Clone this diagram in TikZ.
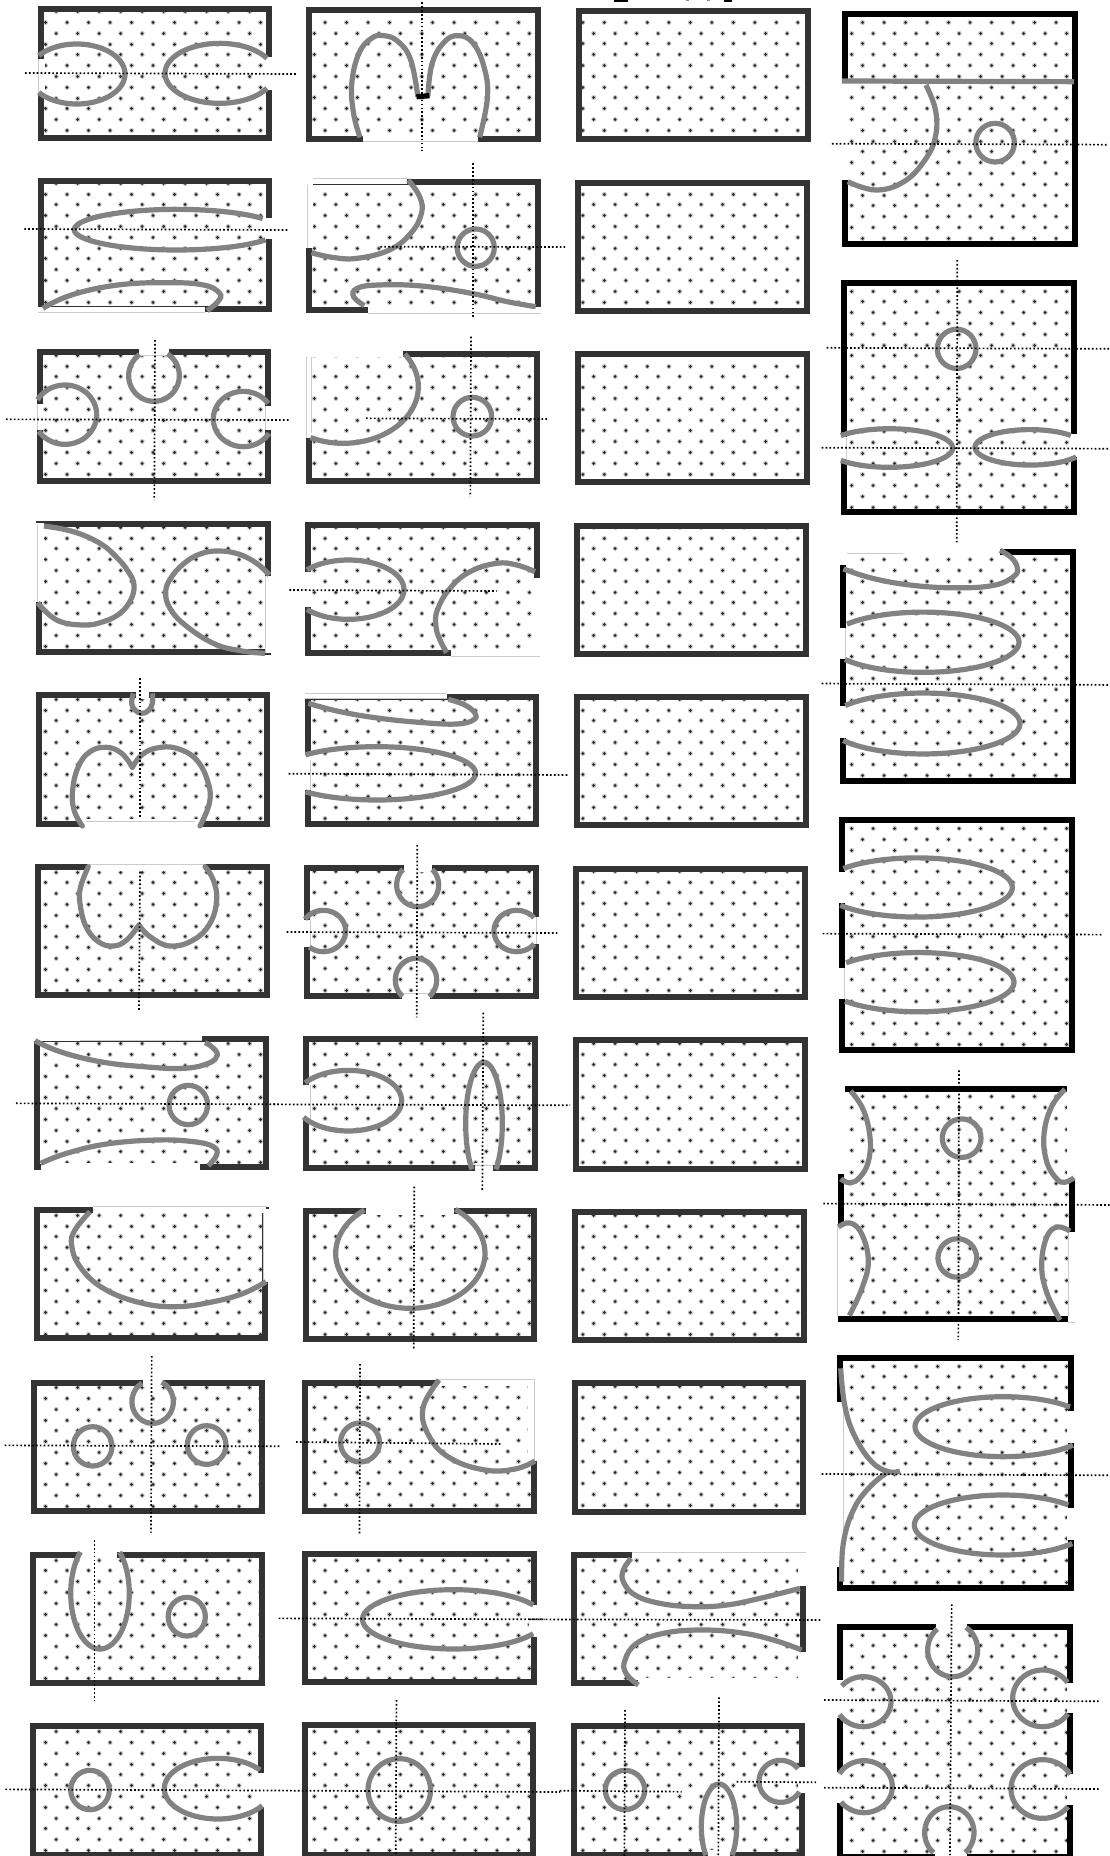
\documentclass[tikz,border=0pt]{standalone}
\usepackage{xcolor}
\definecolor{frmgray}{HTML}{333333}
\definecolor{cvgray}{HTML}{828282}
\definecolor{dotgray}{HTML}{282828}
\definecolor{halogray}{HTML}{C4C4C4}
\tikzset{
  cv/.style={draw=cvgray,line width=5.2pt},
  axisl/.style={draw=black,line width=1.7pt,dash pattern=on 1.7pt off 2.2pt},
  seam/.style={draw=black!20,line width=.6pt},
  halodot/.style={draw=halogray,line width=5pt,line cap=round},
  coredot/.style={draw=dotgray,line width=3pt,line cap=round},
  zm/.style n args={4}{shift={(#1,#2)},x=#3pt,y=#4pt},
  zt/.style 2 args={zm={#1}{#2}{.33333}{-.33333}},
  zn/.style 2 args={zm={#1}{#2}{.35714}{-.33333}},
  zo/.style 2 args={zm={#1}{#2}{.35088}{-.33333}},
  zv/.style 2 args={zm={#1}{#2}{.33333}{-.34435}},
}
\newcommand{\setcol}[3]{\def\colA{#1}\def\colB{#2}\def\colF{#3}}
% x0 y0 x1 y1 ydot rows phase
\newcommand{\panel}[7]{%
  \foreach \kk in {1,...,#6}{%
    \pgfmathsetmacro{\yy}{#5+10.8*(\kk-1)}%
    \pgfmathtruncatemacro{\ph}{mod(\kk-1+#7,2)}%
    \ifnum\ph=0
      \path[halodot] \foreach \ii in {0,...,10}{({\colA+21.5*\ii},\yy) -- ++(.01,0)};%
      \path[coredot] \foreach \ii in {0,...,10}{({\colA+21.5*\ii},\yy) -- ++(.01,0)};%
    \else
      \path[halodot] \foreach \ii in {0,...,9}{({\colB+21.5*\ii},\yy) -- ++(.01,0)};%
      \path[coredot] \foreach \ii in {0,...,9}{({\colB+21.5*\ii},\yy) -- ++(.01,0)};%
    \fi
  }%
  \draw[draw=\colF,line width=6pt] ([shift={(3,3)}]#1,#2) rectangle ([shift={(-3,-3)}]#3,#4);%
}
\newcommand{\gp}[4]{\fill[white] (#1,#2) rectangle (#3,#4);}
\newcommand{\sm}[4]{\draw[seam] (#1,#2) -- (#3,#4);}
\newcommand{\cvv}[1]{\draw[cv] plot[smooth,tension=.7] coordinates {#1};}
\newcommand{\cvr}[1]{\draw[cv,line cap=round] plot[smooth,tension=.7] coordinates {#1};}
\newcommand{\rng}[4]{\draw[cv] (#1,#2) circle[x radius=#3,y radius=#4];}
\newcommand{\ela}[6]{\draw[cv] plot[domain=#5:#6,samples=72,variable=\t] ({#1+#3*cos(\t)},{#2+#4*sin(\t)});}
\newcommand{\dl}[4]{\draw[axisl] (#1,#2) -- (#3,#4);}
\begin{document}
\begin{tikzpicture}[x=1pt,y=-1pt]
\useasboundingbox (0,0) rectangle (1110,1856);
\fill[white] (0,0) rectangle (1110,1856);
% fragments of the cropped line of text at the top edge
\fill[black] (614,0) rectangle (628,1.6);
\fill[black] (724,0) rectangle (732,1.6);
\fill[black!45] (686,0) rectangle (689,1.4);
\fill[black!45] (707,0) rectangle (710,1.4);
% ---- column 1
\setcol{45.5}{56.2}{frmgray}
\panel{37.5}{6}{272}{140.7}{11.7}{12}{1}
\panel{37.5}{177.7}{272}{312.3}{183.3}{12}{1}
\panel{36.7}{349}{271.2}{484}{355.3}{12}{1}
\panel{36.3}{521}{271}{655.3}{527.3}{12}{1}
\panel{36}{692}{270.4}{826.7}{699.3}{12}{1}
\panel{35.3}{863.7}{270}{998.3}{872}{12}{1}
\panel{34.3}{1036}{269.3}{1170}{1043.9}{12}{1}
\panel{33.7}{1207}{268.4}{1341}{1215.3}{12}{1}
\panel{30.7}{1380}{265.3}{1514}{1387.7}{12}{1}
\panel{30.4}{1551.7}{264.7}{1685.7}{1560}{12}{1}
\panel{29.6}{1722.7}{264}{1858}{1731.7}{12}{1}
% ---- column 2
\setcol{314.3}{325}{frmgray}
\panel{306.4}{7.3}{541.4}{141.7}{22.3}{11}{1}
\panel{306.4}{179}{541.4}{312.7}{194}{11}{1}
\panel{305.7}{350.7}{540}{484.3}{355.3}{12}{0}
\panel{305.3}{522}{539.7}{656}{527.3}{12}{0}
\panel{304.7}{693.7}{539.3}{827.3}{699.3}{12}{0}
\panel{304}{864.7}{538.7}{999}{871.3}{12}{0}
\panel{303.3}{1036}{538}{1170.7}{1043.3}{12}{0}
\panel{302.7}{1207.7}{537.3}{1342}{1215.3}{12}{0}
\panel{302.3}{1379.5}{536.8}{1514}{1386.2}{12}{0}
\panel{302}{1550.7}{536.8}{1685}{1560}{12}{0}
\panel{301.8}{1722.3}{536.4}{1858}{1731.7}{12}{0}
% ---- column 3
\setcol{582.8}{593.7}{frmgray}
\panel{575.8}{8.3}{810.5}{142.3}{22.3}{11}{0}
\panel{575.3}{179.5}{810}{314}{194}{11}{0}
\panel{574.8}{351}{809.5}{485.3}{366}{11}{0}
\panel{574.3}{522.5}{809}{657}{527.3}{12}{1}
\panel{573.8}{694}{808.5}{828.3}{699.3}{12}{1}
\panel{573.2}{865.8}{808}{1000}{871.3}{12}{1}
\panel{572.7}{1037.3}{807.5}{1171.6}{1043.3}{12}{1}
\panel{572.2}{1208.8}{807}{1343}{1215.3}{12}{1}
\panel{571.7}{1380.3}{806.4}{1514.6}{1386.2}{12}{1}
\panel{571}{1551.7}{805.7}{1685.7}{1560}{12}{1}
\panel{570.7}{1723.3}{805.4}{1858}{1731.7}{12}{1}
% ---- column 4
\setcol{851.7}{862.5}{black}
\panel{841.8}{10.7}{1078}{246.7}{22.3}{21}{1}
\panel{840.7}{279.6}{1077}{515}{291}{21}{0}
\panel{840}{548.6}{1076}{784}{559.6}{21}{1}
\panel{839}{816.5}{1075}{1053.4}{828.6}{21}{0}
\panel{838}{1085.5}{1075}{1322}{1096.8}{21}{1}
\panel{837.3}{1354.7}{1074}{1591.3}{1366}{21}{0}
\panel{836.7}{1623.7}{1073}{1860}{1635}{21}{1}
% ==== zoom 1 region
\begin{scope}[zn={0}{0}]
  \gp{100}{178}{125}{280}\gp{745}{170}{768}{270}
  \sm{108}{178}{108}{280}
  \ela{215}{222}{135}{90}{-142}{142}
  \ela{615}{220}{153}{90}{30}{330}
  \gp{1015}{405}{1338}{430}\sm{1015}{424}{1338}{424}
  \cvv{(1008,412)(990,340)(985,250)(1005,160)(1040,115)(1075,107)(1115,125)(1150,180)(1170,290)}
  \cvv{(1198,290)(1210,190)(1245,125)(1285,107)(1325,130)(1355,200)(1365,290)(1343,412)}
  \fill[black] (1165,283) -- (1201,279) -- (1203,295) -- (1167,298) -- cycle;
  \gp{100}{922}{575}{945}\sm{105}{937}{575}{937}
  \gp{745}{655}{768}{718}
  \ela{495}{689}{287}{61}{30}{327}
  \cvv{(120,925)(200,885)(330,855)(470,848)(570,855)(615,880)(610,905)(580,932)}
  \gp{850}{530}{875}{745}\gp{850}{530}{1140}{552}\sm{860}{555}{860}{745}\sm{875}{535}{1140}{535}
  \gp{1030}{922}{1520}{945}\sm{1030}{940}{1515}{940}
  \cvv{(1143,540)(1175,590)(1180,640)(1150,700)(1090,750)(1000,775)(930,772)(872,758)}
  \cvv{(1020,917)(990,890)(1000,865)(1060,855)(1180,858)(1320,880)(1420,905)(1500,920)}
  \rng{1332}{743}{52}{56}
\end{scope}
% ==== zoom 2 region
\begin{scope}[zo={560}{0}]
  \gp{798}{236}{822}{540}
  \draw[cv] (803,243) -- (1465,245);
  \cvv{(1043,255)(1070,330)(1070,410)(1040,480)(980,545)(900,570)(820,545)}
  \rng{1240}{428}{55}{58}
\end{scope}
% ==== zoom 4: rows 3 and 4, column 1
\begin{scope}[zt={0}{330}]
  \gp{418}{55}{508}{78}\gp{105}{222}{130}{300}\gp{795}{228}{815}{300}
  \sm{418}{75}{508}{75}\sm{113}{222}{113}{300}\sm{797}{228}{797}{300}
  \ela{462}{137}{76}{77}{-58}{235}
  \ela{195}{254}{95}{89}{-150}{146}
  \ela{730}{267}{90}{83}{31}{326}
  \gp{105}{580}{132}{815}\gp{795}{738}{815}{968}
  \sm{113}{585}{113}{815}\sm{797}{738}{797}{968}
  \cvv{(132,588)(220,605)(300,640)(350,682)(385,725)(402,765)(392,810)(360,850)(310,875)(250,885)(170,870)(113,818)}
  \cvv{(808,735)(770,700)(715,672)(655,663)(600,672)(550,702)(512,745)(497,787)(510,835)(555,885)(640,940)(720,962)(795,970)}
\end{scope}
% ==== zoom 5: rows 3,4,5 column 2
\begin{scope}[zt={280}{330}]
  \gp{72}{78}{95}{325}\gp{72}{58}{370}{82}\sm{78}{80}{78}{325}\sm{95}{80}{95}{310}
  \ela{190}{170}{225}{170}{-35}{116}
  \rng{577}{260}{58}{58}
  \gp{72}{725}{95}{832}\gp{512}{960}{785}{985}\gp{760}{745}{785}{965}\sm{512}{978}{780}{978}
  \ela{205}{779}{167}{89}{-138}{138}
  \cvv{(765,725)(710,705)(650,700)(570,725)(510,775)(472,840)(468,890)(480,930)(500,968)}
  \gp{70}{1088}{500}{1108}\sm{75}{1090}{500}{1090}\sm{75}{1105}{500}{1105}
  \gp{70}{1275}{92}{1380}\sm{90}{1290}{90}{1380}
  \cvv{(85,1120)(180,1145)(300,1165)(430,1178)(530,1182)(580,1170)(585,1150)(555,1125)(505,1108)}
  \ela{290}{1330}{297}{80}{-136}{136}
\end{scope}
% ==== zoom 6: rows 5,6,7 column 1
\begin{scope}[zt={0}{670}]
  \gp{245}{448}{600}{475}\sm{258}{453}{585}{453}
  \gp{408}{62}{446}{88}
  \cvv{(400,70)(395,100)(405,120)(425,130)(445,122)(457,100)(457,70)}
  \cvr{(247,468)(222,420)(218,360)(235,290)(270,245)(320,232)(365,250)(397,292)}
  \cvr{(397,292)(425,255)(470,234)(530,235)(590,270)(625,340)(628,400)(600,468)}
  \gp{265}{578}{615}{602}\sm{265}{582}{615}{582}
  \cvr{(265,590)(242,650)(240,700)(258,770)(295,815)(340,828)(380,810)(417,765)}
  \cvr{(417,765)(450,800)(510,828)(580,810)(630,760)(650,690)(640,630)(615,590)}
  \gp{100}{1095}{605}{1114}\gp{123}{1480}{600}{1505}\sm{240}{1110}{605}{1110}
  \cvv{(105,1112)(180,1145)(300,1175)(430,1190)(550,1195)(625,1180)(652,1155)(635,1130)(615,1118)}
  \cvv{(122,1480)(200,1450)(320,1422)(470,1410)(580,1415)(640,1430)(650,1455)(625,1487)}
  \rng{565}{1305}{58}{59}
\end{scope}
% ==== zoom 7: rows 6,7,8 column 2
\begin{scope}[zt={280}{830}]
  \gp{372}{100}{457}{125}\gp{365}{487}{450}{512}\gp{68}{270}{92}{352}\gp{755}{260}{778}{343}
  \sm{365}{490}{450}{490}\sm{92}{270}{92}{352}\sm{770}{260}{770}{343}
  \ela{413}{165}{63}{65}{-46}{226}
  \ela{408}{450}{62}{65}{131}{410}
  \ela{130}{303}{67}{62}{-145}{129}
  \ela{710}{303}{68}{62}{39}{320}
  \gp{68}{765}{90}{870}\gp{585}{1000}{640}{1025}\sm{90}{765}{90}{870}\sm{585}{1005}{640}{1005}
  \ela{205}{812}{160}{91}{-144}{147}
  \ela{612}{880}{55}{183}{131}{409}
  \gp{258}{1130}{522}{1155}
  \ela{391}{1270}{224}{165}{-53}{232}
\end{scope}
% ==== zoom 8: rows 8,9 column 1
\begin{scope}[zt={0}{1170}]
  \gp{278}{105}{810}{128}\gp{788}{125}{810}{335}\sm{278}{110}{800}{110}\sm{790}{128}{790}{335}
  \fill[frmgray] (797,112) rectangle (806,118);
  \cvv{(270,125)(225,180)(215,225)(240,290)(310,355)(420,398)(530,410)(640,395)(730,370)(798,335)}
  \gp{428}{628}{488}{650}
  \ela{458}{695}{62}{65}{-64}{239}
  \rng{278}{829}{58}{59}
  \rng{620}{825}{58}{58}
\end{scope}
% ==== row 9 column 2 (read on the full picture)
\begin{scope}
  \gp{436}{1374}{541}{1386}\gp{528}{1374}{541}{1461}\sm{436}{1379}{535}{1379}\sm{534}{1380}{534}{1461}
  \cvv{(439,1380)(423,1408)(429,1436)(450,1458)(485,1470)(515,1469)(535,1461)}
  \rng{360}{1442.5}{19.5}{19.5}
\end{scope}
% ==== zoom 3: rows 10,11 columns 1,2
\begin{scope}[zn={0}{1500}]
  \gp{222}{152}{328}{175}
  \ela{280}{280}{82}{167}{-48}{228}
  \rng{523}{350}{52}{58}
  \gp{1480}{315}{1510}{412}
  \ela{1270}{358}{255}{89}{29}{331}
  \gp{722}{820}{745}{920}
  \ela{610}{866}{150}{91}{34}{322}
  \rng{252}{870}{54}{59}
  \rng{1118}{870}{87.5}{94}
\end{scope}
% ==== zoom 12: rows 10,11 column 3
\begin{scope}[zt={560}{1540}]
  \gp{215}{30}{745}{55}\gp{715}{30}{745}{138}\gp{715}{335}{745}{445}\gp{235}{415}{745}{445}
  \sm{215}{37}{737}{37}
  \cvv{(213,55)(190,90)(190,125)(225,165)(300,190)(400,200)(500,195)(600,175)(720,145)}
  \cvv{(725,330)(640,300)(540,278)(420,270)(310,280)(230,310)(195,360)(198,400)(235,435)}
  \gp{715}{682}{740}{760}\gp{445}{930}{510}{950}
  \ela{477}{860}{53}{128}{138}{402}
  \ela{662}{724}{65}{63}{30}{323}
  \rng{195}{750}{59}{59}
\end{scope}
% ==== zoom 9: column 4
\begin{scope}[zv={820}{260}]
  \gp{58}{515}{82}{582}\gp{750}{505}{775}{572}\sm{78}{515}{78}{582}
  \ela{208}{546}{190}{56}{-140}{140}
  \ela{630}{544}{165}{51.5}{33}{318}
  \rng{410}{258}{58}{57}
  \gp{55}{832}{540}{858}\gp{55}{832}{78}{885}\gp{55}{1068}{78}{1158}\gp{55}{1295}{78}{1387}
  \sm{82}{852}{250}{852}\sm{77}{1068}{77}{1158}
  \cvv{(70,897)(160,925)(280,945)(410,952)(520,945)(580,920)(592,895)(575,865)(540,843)}
  \ela{310}{1110}{287}{87.5}{-143}{145}
  \ela{310}{1346}{290}{88.5}{-144}{146}
\end{scope}
% ==== zoom 10: column 4
\begin{scope}[zv={820}{800}]
  \gp{52}{208}{78}{300}\gp{52}{487}{75}{577}\sm{73}{487}{73}{577}
  \ela{290}{254}{287}{86}{-140}{143}
  \ela{295}{529}{287}{86}{-139}{140}
  \gp{50}{825}{75}{1085}\gp{50}{1240}{75}{1497}
  \gp{742}{825}{770}{1100}\gp{745}{1255}{770}{1497}
  \sm{53}{1240}{53}{1497}\sm{745}{1255}{745}{1497}
  \fill[white] (745,1497) rectangle (770,1520);
  \sm{745}{1516}{765}{1516}
  \cvv{(92,845)(130,900)(150,980)(145,1050)(120,1095)(90,1112)(62,1100)}
  \cvv{(55,1240)(90,1228)(125,1260)(145,1340)(125,1420)(88,1497)}
  \cvv{(735,840)(695,890)(672,970)(680,1050)(710,1100)(735,1110)(762,1097)}
  \cvv{(750,1252)(712,1240)(680,1270)(665,1350)(680,1430)(720,1510)}
  \rng{425}{982}{58}{56}
  \rng{412}{1330}{58}{56}
\end{scope}
% ==== zoom 11: column 4
\begin{scope}[zt={820}{1340}]
  \gp{48}{185}{71}{680}\gp{742}{212}{765}{308}\gp{742}{505}{765}{600}\sm{70}{185}{70}{680}
  \cvv{(62,85)(75,200)(105,290)(155,365)(205,395)(240,393)}
  \cvv{(205,395)(150,440)(100,510)(70,610)(65,725)}
  \ela{550}{260}{265}{90}{38}{319}
  \ela{548}{555}{265}{90}{38}{318}
  \gp{348}{848}{440}{872}\gp{46}{1020}{69}{1135}\gp{46}{1295}{69}{1390}
  \gp{742}{1030}{765}{1120}\gp{742}{1302}{765}{1395}\gp{345}{1525}{440}{1560}
  \ela{398}{930}{75}{80}{-58}{232}
  \ela{130}{1085}{83}{75}{-141}{149}
  \ela{668}{1075}{90}{85}{33}{326}
  \ela{132}{1340}{85}{78}{-150}{144}
  \ela{668}{1347}{95}{88}{37}{330}
  \ela{388}{1478}{74}{78}{130}{410}
\end{scope}
% ==================== axes, on top of everything
\begin{scope}[zn={0}{0}]
  \dl{70}{219}{830}{222}\dl{1182}{-5}{1182}{452}
  \dl{68}{687}{805}{690}\dl{1065}{740}{1582}{741}\dl{1325}{490}{1325}{958}
\end{scope}
\begin{scope}[zo={560}{0}]
  \dl{775}{431}{1560}{434}
\end{scope}
\begin{scope}[zt={0}{330}]
  \dl{18}{268}{870}{270}\dl{465}{30}{463}{510}
\end{scope}
\begin{scope}[zt={280}{330}]
  \dl{258}{265}{803}{267}\dl{573}{20}{571}{500}\dl{28}{780}{650}{783}
  \dl{26}{1331}{864}{1335}
\end{scope}
\begin{scope}[zt={0}{670}]
  \dl{420}{25}{420}{440}\dl{420}{605}{417}{1022}\dl{48}{1300}{835}{1303}
\end{scope}
\begin{scope}[zt={280}{830}]
  \dl{20}{306}{835}{309}\dl{412}{45}{410}{562}
  \dl{-20}{823}{870}{826}\dl{610}{548}{607}{1080}\dl{403}{1070}{401}{1560}
\end{scope}
\begin{scope}[zt={0}{1170}]
  \dl{14}{826}{840}{829}\dl{455}{558}{453}{1088}
\end{scope}
\begin{scope}
  \dl{296}{1442}{502}{1444}\dl{360}{1364}{359.5}{1534}
\end{scope}
\begin{scope}[zn={0}{1500}]
  \dl{265}{120}{265}{600}\dl{780}{355}{1525}{358}
  \dl{15}{868}{845}{872}\dl{845}{872}{1568}{876}\dl{1110}{600}{1108}{1075}
\end{scope}
\begin{scope}[zt={560}{1540}]
  \dl{-90}{238}{783}{240}
  \dl{-1}{752}{365}{755}\dl{195}{510}{193}{950}\dl{477}{472}{475}{950}\dl{530}{725}{768}{727}
\end{scope}
\begin{scope}[zv={820}{260}]
  \dl{20}{255}{870}{258}\dl{5}{545}{870}{548}\dl{412}{0}{410}{820}\dl{5}{1230}{870}{1234}
\end{scope}
\begin{scope}[zv={820}{800}]
  \dl{8}{388}{845}{391}\dl{10}{1172}{870}{1176}\dl{417}{785}{415}{1568}
\end{scope}
\begin{scope}[zt={820}{1340}]
  \dl{5}{402}{870}{406}\dl{12}{1080}{838}{1084}\dl{12}{1343}{838}{1347}\dl{395}{793}{390}{1545}
\end{scope}
\end{tikzpicture}
\end{document}
